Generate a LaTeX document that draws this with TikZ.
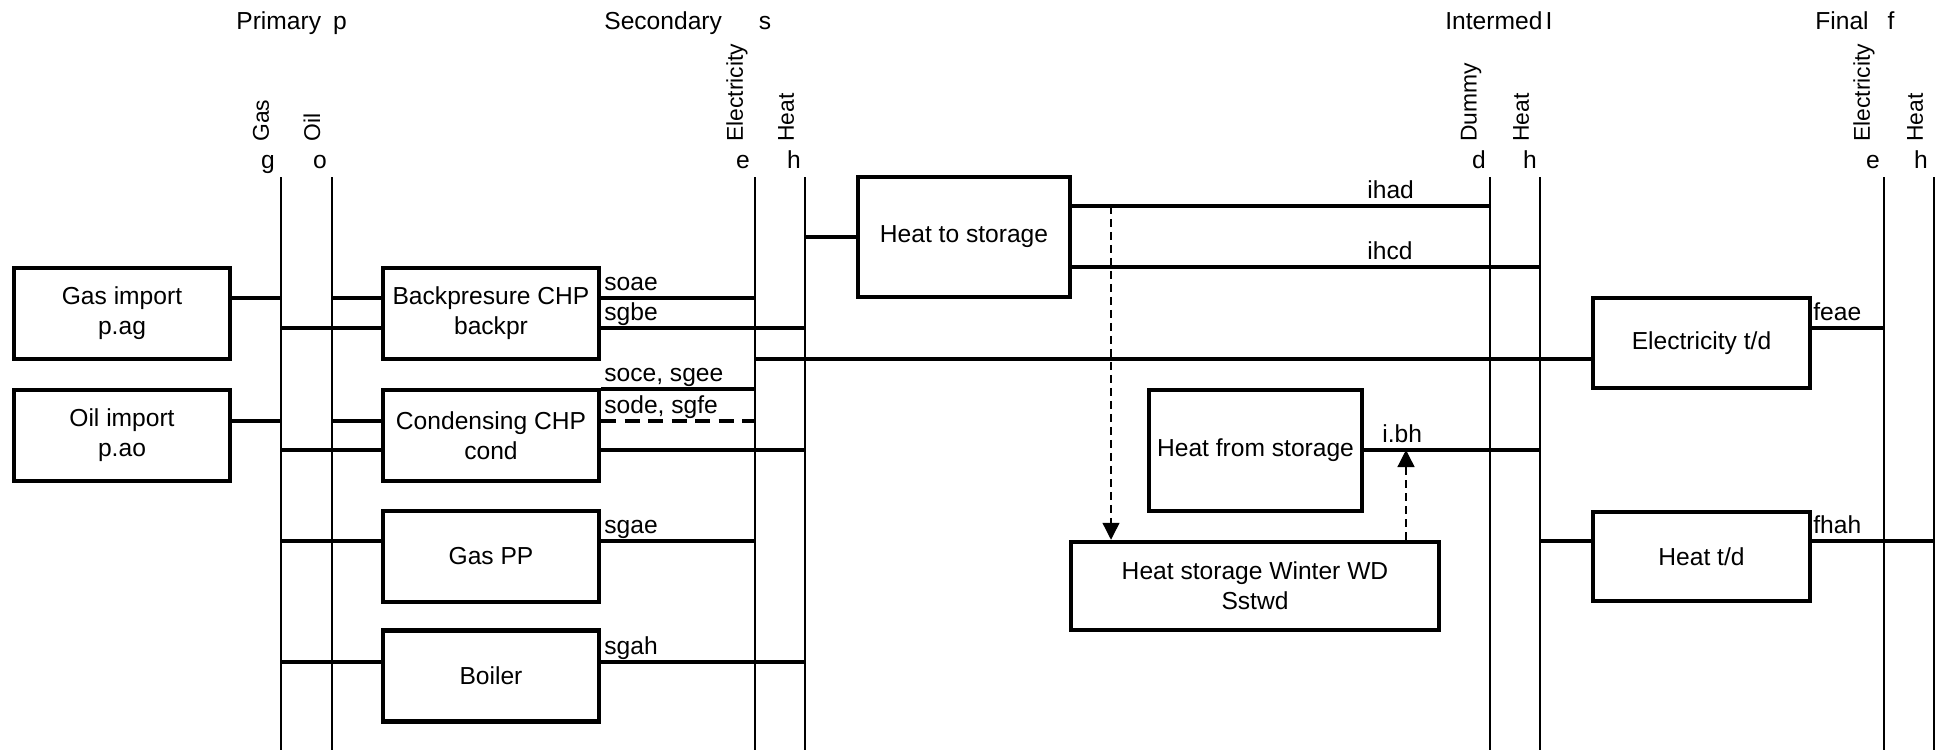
\documentclass[tikz,border=0pt]{standalone}
\usepackage{fontspec}
\setmainfont{Liberation Sans}
\usetikzlibrary{arrows.meta,calc}
\definecolor{ink}{HTML}{000000}
\newcommand{\fsz}{\fontsize{14}{17}\selectfont}
\tikzset{
  proc/.style   ={draw=ink, line width=0.09cm, minimum width=4.32cm,
                  minimum height=1.82cm, align=center, font=\fsz, inner sep=2pt},
  bus/.style    ={draw=ink, line width=0.05cm},
  conn/.style   ={draw=ink, line width=0.07cm},
  dconn/.style  ={conn, dash pattern=on 0.3cm off 0.17cm},
  sarr/.style   ={-{Triangle[length=0.34cm,width=0.34cm]}, draw=ink,
                  line width=0.026cm, dash pattern=on 0.16cm off 0.1cm},
  flow/.style   ={font=\fsz, inner sep=0pt, anchor=base west},
  carrier/.style={font=\fontsize{13}{15}\selectfont, inner sep=0pt,
                  rotate=90, anchor=west},
  hdr/.style    ={font=\fsz, inner sep=0pt},
}

\begin{document}
\begin{tikzpicture}[x=0.02cm,y=-0.02cm]
  \useasboundingbox (0,0) rectangle (1937,750);

  % bus tops and rows
  \coordinate (pg) at (281,177);  \coordinate (po) at (332,177);
  \coordinate (se) at (755,177);  \coordinate (sh) at (805,177);
  \coordinate (id) at (1490,177); \coordinate (ih) at (1540,177);
  \coordinate (fe) at (1884,177); \coordinate (fh) at (1934,177);
  \coordinate (bot) at (0,750);
  \coordinate (rA) at (0,206); \coordinate (rB) at (0,237);
  \coordinate (rC) at (0,267); \coordinate (r1) at (0,298);
  \coordinate (r2) at (0,328); \coordinate (r3) at (0,359);
  \coordinate (r4) at (0,389); \coordinate (r5) at (0,421);
  \coordinate (r6) at (0,450); \coordinate (r7) at (0,541);
  \coordinate (r8) at (0,662);

  \foreach \b in {pg,po,se,sh,id,ih,fe,fh}
    \draw[bus] (\b) -- (\b |- bot);

  % headings
  \node[hdr,anchor=base west] (h-prim) at (236,30) {Primary};
  \node[hdr,anchor=base] (h-p) at (340,30) {p};
  \node[hdr,anchor=base west] (h-sec) at (604,30) {Secondary};
  \node[hdr,anchor=base] (h-s) at (765,30) {s};
  \node[hdr,anchor=base west] (h-int) at (1445,30) {Intermed};
  \node[hdr,anchor=base] (h-i) at (1549,30) {I};
  \node[hdr,anchor=base west] (h-fin) at (1815,30) {Final};
  \node[hdr,anchor=base] (h-f) at (1891,30) {f};

  \node[carrier] (c-gas) at (261,142) {Gas};
  \node[carrier] (c-oil) at (312,142) {Oil};
  \node[carrier] (c-se) at (737,142) {Electricity};
  \node[carrier] (c-sh) at (786,142) {Heat};
  \node[carrier] (c-id) at (1471,142) {Dummy};
  \node[carrier] (c-ih) at (1521,142) {Heat};
  \node[carrier] (c-fe) at (1864,142) {Electricity};
  \node[carrier] (c-fh) at (1915,142) {Heat};

  \node[hdr,anchor=base] (k-g) at (268,169) {g};
  \node[hdr,anchor=base] (k-o) at (320,169) {o};
  \node[hdr,anchor=base] (k-se) at (743,169) {e};
  \node[hdr,anchor=base] (k-sh) at (794,169) {h};
  \node[hdr,anchor=base] (k-id) at (1479,169) {d};
  \node[hdr,anchor=base] (k-ih) at (1530,169) {h};
  \node[hdr,anchor=base] (k-fe) at (1873,169) {e};
  \node[hdr,anchor=base] (k-fh) at (1921,169) {h};

  % processes
  \node[proc] (gasimp) at (122,313.5) {Gas import\\p.ag};
  \node[proc] (oilimp) at (122,435.5) {Oil import\\p.ao};
  \node[proc] (backpr) at (491,313.5) {Backpresure CHP\\backpr};
  \node[proc] (cond) at (491,435.5) {Condensing CHP\\cond};
  \node[proc] (gaspp) at (491,556.5) {Gas PP};
  \node[proc] (boiler) at (491,676) {Boiler};
  \node[proc,minimum width=4.24cm,minimum height=2.4cm] (hts) at (964,237) {Heat to storage};
  \node[proc,minimum width=4.26cm,minimum height=2.42cm] (hfs) at (1255.5,450.5) {Heat from storage};
  \node[proc,minimum width=7.36cm,minimum height=1.76cm] (hstor) at (1255,586) {Heat storage Winter WD\\Sstwd};
  \node[proc,minimum width=4.34cm,minimum height=1.8cm] (eltd) at (1701.5,343) {Electricity t/d};
  \node[proc,minimum width=4.34cm,minimum height=1.78cm] (heattd) at (1701.5,556.5) {Heat t/d};

  % flows
  \draw[conn] (gasimp.east |- r1) -- (pg |- r1);
  \draw[conn] (oilimp.east |- r5) -- (pg |- r5);
  \draw[conn] (po |- r1) -- (backpr.west |- r1);
  \draw[conn] (pg |- r2) -- (backpr.west |- r2);
  \draw[conn] (po |- r5) -- (cond.west |- r5);
  \draw[conn] (pg |- r6) -- (cond.west |- r6);
  \draw[conn] (pg |- r7) -- (gaspp.west |- r7);
  \draw[conn] (pg |- r8) -- (boiler.west |- r8);
  \draw[conn] (backpr.east |- r1) -- (se |- r1);
  \draw[conn] (backpr.east |- r2) -- (sh |- r2);
  \draw[conn] (cond.east |- r4) -- (se |- r4);
  \draw[dconn] (cond.east |- r5) -- (se |- r5);
  \draw[conn] (cond.east |- r6) -- (sh |- r6);
  \draw[conn] (gaspp.east |- r7) -- (se |- r7);
  \draw[conn] (boiler.east |- r8) -- (sh |- r8);
  \draw[conn] (se |- r3) -- (eltd.west |- r3);
  \draw[conn] (sh |- rB) -- (hts.west |- rB);
  \draw[conn] (hts.east |- rA) -- (id |- rA);
  \draw[conn] (hts.east |- rC) -- (ih |- rC);
  \draw[conn] (hfs.east |- r6) -- (ih |- r6);
  \draw[conn] (ih |- r7) -- (heattd.west |- r7);
  \draw[conn] (eltd.east |- r2) -- (fe |- r2);
  \draw[conn] (heattd.east |- r7) -- (fh |- r7);

  % storage links
  \coordinate (tap) at (1111,206);
  \coordinate (ret) at (1406,450);
  \draw[sarr] (tap) -- (tap |- hstor.north);
  \draw[sarr] (ret |- hstor.north) -- (ret);

  % flow names
  \node[flow] (l-soae) at (604,290) {soae};
  \node[flow] (l-sgbe) at (604,320) {sgbe};
  \node[flow] (l-soce) at (604,381) {soce, sgee};
  \node[flow] (l-sode) at (604,413) {sode, sgfe};
  \node[flow] (l-sgae) at (604,533) {sgae};
  \node[flow] (l-sgah) at (604,654) {sgah};
  \node[flow] (l-ihad) at (1367,198) {ihad};
  \node[flow] (l-ihcd) at (1367,259) {ihcd};
  \node[flow] (l-ibh) at (1382,442) {i.bh};
  \node[flow] (l-feae) at (1813,320) {feae};
  \node[flow] (l-fhah) at (1813,533) {fhah};
\end{tikzpicture}
\end{document}
